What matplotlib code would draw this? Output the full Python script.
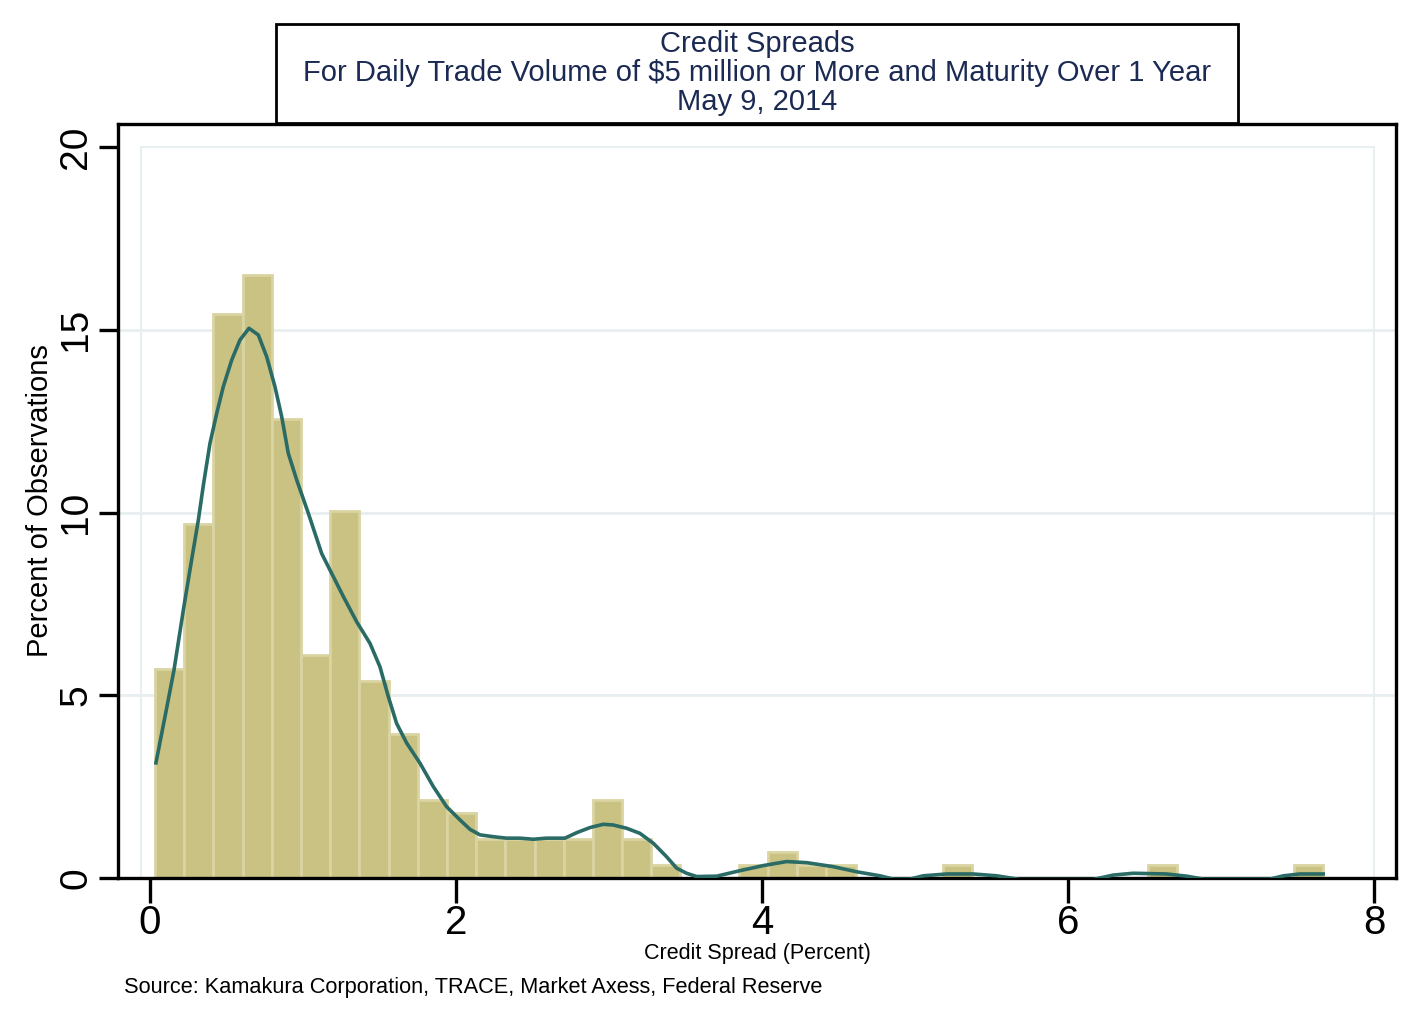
import numpy as np
import matplotlib.pyplot as plt
from matplotlib.patches import Rectangle

plt.rcParams['font.family'] = ['Liberation Sans', 'DejaVu Sans']

# histogram (percent of observations), 40 equal bins
bin_start = 0.033
bin_width = 0.1908
pct = [5.73, 9.68, 15.43, 16.49, 12.55, 6.10, 10.04, 5.38, 3.93, 2.14,
       1.78, 1.07, 1.07, 1.07, 1.07, 2.14, 1.07, 0.36, 0.0, 0.0,
       0.36, 0.71, 0.36, 0.36, 0.0, 0.0, 0.0, 0.36, 0.0, 0.0,
       0.0, 0.0, 0.0, 0.0, 0.36, 0.0, 0.0, 0.0, 0.0, 0.36]

# kernel density curve
kde_x = [0.039, 0.098, 0.157, 0.218, 0.272, 0.316, 0.349, 0.392, 0.436, 0.479,
         0.534, 0.588, 0.647, 0.708, 0.763, 0.817, 0.861, 0.904, 0.959, 1.035,
         1.122, 1.187, 1.264, 1.351, 1.438, 1.503, 1.558, 1.612, 1.678, 1.765,
         1.852, 1.939, 2.026, 2.092, 2.157, 2.244, 2.331, 2.418, 2.505, 2.593,
         2.712, 2.789, 2.876, 2.963, 3.028, 3.116, 3.203, 3.290, 3.377, 3.442,
         3.507, 3.573, 3.704, 3.856, 4.009, 4.161, 4.292, 4.466, 4.619, 4.771,
         4.858, 4.967, 5.054, 5.207, 5.382, 5.534, 5.686, 6.165, 6.296, 6.427,
         6.645, 6.776, 6.885, 7.320, 7.408, 7.516, 7.668]
kde_y = [3.15, 4.41, 5.69, 7.33, 8.70, 9.79, 10.75, 11.89, 12.71, 13.44,
         14.17, 14.72, 15.04, 14.86, 14.26, 13.44, 12.62, 11.62, 10.89, 9.98,
         8.88, 8.34, 7.70, 7.01, 6.42, 5.78, 4.96, 4.23, 3.69, 3.14,
         2.50, 1.95, 1.59, 1.33, 1.18, 1.13, 1.09, 1.09, 1.06, 1.09,
         1.09, 1.24, 1.38, 1.47, 1.45, 1.36, 1.22, 0.95, 0.58, 0.27,
         0.13, 0.04, 0.05, 0.20, 0.34, 0.45, 0.42, 0.31, 0.17, 0.06,
         -0.03, -0.03, 0.06, 0.11, 0.11, 0.06, -0.04, -0.04, 0.08, 0.13,
         0.11, 0.05, -0.03, -0.03, 0.06, 0.11, 0.11]

xticks = [0, 2, 4, 6, 8]
yticks = [0, 5, 10, 15, 20]

W, H = 1422, 1024
fig = plt.figure(figsize=(W/100, H/100), dpi=100)
ax = fig.add_axes([118/W, 1-878/H, (1396-118)/W, (878-124)/H])

lefts = bin_start + bin_width*np.arange(len(pct))
ax.bar(lefts, pct, width=bin_width, align='edge', color='#cac282',
       edgecolor='#d9d4a1', linewidth=2, zorder=2)
ax.plot(kde_x, kde_y, color='#2a6b66', lw=2.6, zorder=3, solid_joinstyle='round')

# light plot region and grid
ax.add_patch(Rectangle((-0.059, 0), 8.059, 20, fill=False, ec='#e8eff1', lw=1.5, zorder=0))
for g in [5, 10, 15]:
    ax.axhline(g, color='#e8eff1', lw=2, zorder=0)

ax.set_xlim(-0.209, 8.144)
ax.set_ylim(0, 20.63)
ax.set_xticks(xticks)
ax.set_yticks(yticks)
ax.tick_params(axis='x', length=18, width=2.4, labelsize=29, pad=1)
ax.tick_params(axis='y', length=14, width=2.4, labelsize=28, pad=3, labelrotation=90)
for lab in ax.get_yticklabels():
    lab.set_va('center')
for s in ax.spines.values():
    s.set_linewidth(2.4)

fig.text(40/W, 1-501/H, 'Percent of Observations', rotation=90, ha='center', va='center', fontsize=21)
fig.text(757/W, 1-954/H, 'Credit Spread (Percent)', ha='center', va='center', fontsize=15.5)
fig.text(124/W, 1-987/H, 'Source: Kamakura Corporation, TRACE, Market Axess, Federal Reserve',
         ha='left', va='center', fontsize=15.7)

# title box
fig.patches.append(Rectangle((276/W, 1-123/H), 962/W, 99/H, transform=fig.transFigure,
                             fill=True, fc='white', ec='black', lw=2))
title_lines = ['Credit Spreads',
               'For Daily Trade Volume of $5 million or More and Maturity Over 1 Year',
               'May 9, 2014']
for i, t in enumerate(title_lines):
    fig.text(757/W, 1-(44+29*i)/H, t, ha='center', va='center', fontsize=21, color='#1b2a52')

fig.savefig('out.png', dpi=100)
